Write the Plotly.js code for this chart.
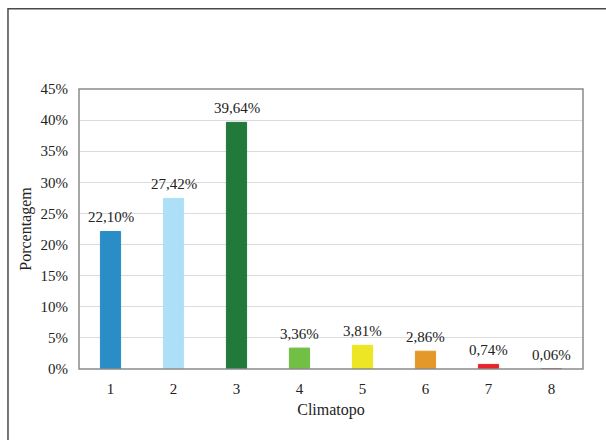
<!DOCTYPE html>
<html>
<head>
<meta charset="utf-8">
<script src="https://cdn.plot.ly/plotly-3.0.1.min.js"></script>
<style>html,body{margin:0;padding:0;background:#fff;}#chart{width:606px;height:440px;}</style>
</head>
<body>
<div id="chart"></div>
<script>
const categories = ["1", "2", "3", "4", "5", "6", "7", "8"];
const percentages = [22.10, 27.42, 39.64, 3.36, 3.81, 2.86, 0.74, 0.06];
const barColors = ["#2A8DC5", "#ADE0F6", "#217A3A", "#71BF45", "#ECE625", "#E4982A", "#E8252A", "#B5504E"];
const yTickValues = [0, 5, 10, 15, 20, 25, 30, 35, 40, 45];
const yTickLabels = yTickValues.map(v => v + "%");

const font = "Liberation Serif, Times New Roman, serif";

const trace = {
  type: "bar",
  x: categories,
  y: percentages,
  marker: { color: barColors, line: { width: 1, color: barColors } },
  hoverinfo: "none"
};

// On a category axis, annotation x is the category index.
const labelAnnotations = categories.map((c, i) => ({
  x: i,
  y: percentages[i],
  xref: "x",
  yref: "y",
  text: percentages[i].toFixed(2).replace(".", ",") + "%",
  showarrow: false,
  xanchor: "center",
  yanchor: "bottom",
  yshift: 4,
  font: { family: font, size: 15, color: "#222" }
}));

const layout = {
  width: 606,
  height: 440,
  margin: { l: 79, r: 23, t: 89, b: 71 },
  paper_bgcolor: "#fff",
  plot_bgcolor: "#fff",
  bargap: 0.68,
  showlegend: false,
  font: { family: font, size: 15, color: "#222" },
  xaxis: {
    type: "category",
    range: [-0.5, categories.length - 0.5],
    showgrid: false,
    showline: false,
    ticks: "",
    tickfont: { family: font, size: 15, color: "#222" },
    ticklabelstandoff: 9,
    title: { text: "Climatopo", font: { family: font, size: 16, color: "#222" }, standoff: 7 }
  },
  yaxis: {
    range: [0, 45],
    tickmode: "array",
    tickvals: yTickValues,
    ticktext: yTickLabels,
    showgrid: true,
    gridcolor: "#DCDCDC",
    gridwidth: 1,
    zeroline: false,
    showline: false,
    ticks: "",
    ticklabelstandoff: 10,
    tickfont: { family: font, size: 15, color: "#222" },
    title: { text: "Porcentagem", font: { family: font, size: 16, color: "#222" }, standoff: 4 }
  },
  shapes: [
    { type: "rect", xref: "paper", yref: "paper", x0: 0, x1: 1, y0: 0, y1: 1,
      line: { color: "#8A8A8A", width: 1.5 }, fillcolor: "rgba(0,0,0,0)", layer: "above" },
    { type: "rect", xref: "paper", yref: "paper", x0: -0.1409, x1: 1.1, y0: -0.3, y1: 1.2862,
      line: { color: "#4A4A4A", width: 1.5 }, fillcolor: "rgba(0,0,0,0)" }
  ],
  annotations: labelAnnotations
};

Plotly.newPlot("chart", [trace], layout, { displayModeBar: false, staticPlot: true });
</script>
</body>
</html>
